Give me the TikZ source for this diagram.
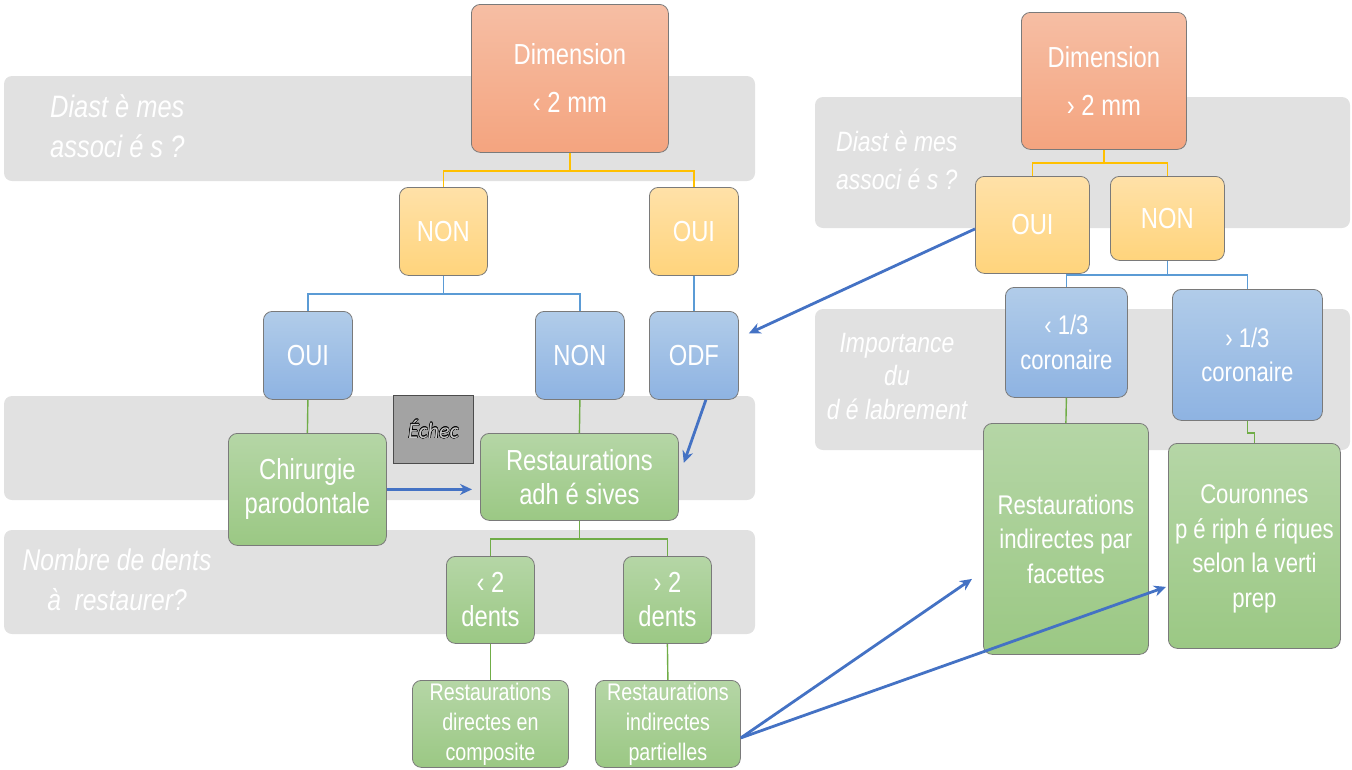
\documentclass[tikz,border=0pt]{standalone}
\usepackage{fontspec}
\setmainfont{Liberation Sans}[FakeStretch=0.82]
\newfontfamily\echecfont{Carlito}
\usepackage{contour}
\contourlength{0.4pt}
\usetikzlibrary{arrows.meta}
\definecolor{band}{HTML}{E1E1E1}
\definecolor{bord}{HTML}{7A7A7A}
\definecolor{orT}{HTML}{F6BEA4}
\definecolor{orB}{HTML}{F4A47F}
\definecolor{yeT}{HTML}{FFE1A8}
\definecolor{yeB}{HTML}{FFD47C}
\definecolor{blT}{HTML}{B1CCE9}
\definecolor{blB}{HTML}{8EB3E2}
\definecolor{grT}{HTML}{B5D6A6}
\definecolor{grB}{HTML}{9BC884}
\definecolor{ycol}{HTML}{FFC000}
\definecolor{bcol}{HTML}{5B9BD5}
\definecolor{gcol}{HTML}{70AD47}
\definecolor{acol}{HTML}{4472C4}
\definecolor{echecfill}{HTML}{A3A3A3}
\definecolor{echectext}{HTML}{C8C8C8}
\begin{document}
\begin{tikzpicture}[x=1pt,y=-1pt,
  bandbox/.style={fill=band,rounded corners=8pt,draw=none},
  bandlbl/.style={text=white,inner sep=0pt},
  boxbase/.style={draw=bord,line width=0.8pt,rounded corners=9pt,text=white,align=center,anchor=north west,inner sep=2pt},
  orbox/.style={boxbase,top color=orT,bottom color=orB},
  yebox/.style={boxbase,top color=yeT,bottom color=yeB},
  blbox/.style={boxbase,top color=blT,bottom color=blB},
  grbox/.style={boxbase,top color=grT,bottom color=grB},
  big/.style={font=\fontsize{29}{34}\selectfont},
  mid/.style={font=\fontsize{29}{34}\selectfont},
  rmid/.style={font=\fontsize{27}{34.5}\selectfont},
  small/.style={font=\fontsize{24}{30}\selectfont},
  ycon/.style={draw=ycol,line width=1.6pt},
  bcon/.style={draw=bcol,line width=1.6pt},
  gcon/.style={draw=gcol,line width=1.4pt},
  arr/.style={draw=acol,line width=2.8pt,-{Stealth[length=12pt,width=11pt]}}
]
\useasboundingbox (0,0) rectangle (1352,769);
% bands
\path[bandbox] (4,76) rectangle (755,181);
\path[bandbox] (4,396) rectangle (755,500);
\path[bandbox] (4,530) rectangle (755,634);
\path[bandbox] (815,97) rectangle (1350,228);
\path[bandbox] (815,309) rectangle (1350,450);
% band labels
\node[bandlbl,anchor=north west,align=left,font=\itshape\fontsize{31}{40}\selectfont] (l1) at (50,94) {Diast è mes\\associ é s ?};
\node[bandlbl,anchor=north,align=center,font=\itshape\fontsize{30}{40}\selectfont] (l2) at (117,549) {Nombre de dents\\à\ \ restaurer?};
\node[bandlbl,anchor=north west,align=left,font=\itshape\fontsize{28}{38}\selectfont] (l3) at (836,131) {Diast è mes\\associ é s ?};
\node[bandlbl,anchor=north,align=center,font=\itshape\fontsize{28}{33.5}\selectfont] (l4) at (897,333) {Importance\\du\\d é labrement};
% left tree
\node[orbox,big,minimum width=197pt,minimum height=148pt] (dim1) at (471,4) {Dimension\\[14pt]‹ 2 mm};
\node[yebox,big,minimum width=88pt,minimum height=88pt] (non1) at (399,187) {NON};
\node[yebox,big,minimum width=89pt,minimum height=88pt] (oui1) at (649,187) {OUI};
\node[blbox,big,minimum width=89pt,minimum height=88pt] (oui2) at (263,311) {OUI};
\node[blbox,big,minimum width=89pt,minimum height=88pt] (non2) at (535,311) {NON};
\node[blbox,big,minimum width=89pt,minimum height=88pt] (odf) at (649,311) {ODF};
\node[grbox,mid,minimum width=158pt,minimum height=112pt] (chir) at (228,433) {Chirurgie\\parodontale};
\node[draw=black!70,line width=0.8pt,fill=echecfill,anchor=north west,minimum width=80pt,minimum height=68pt,
      font=\echecfont\itshape\fontsize{22}{26}\selectfont,text=echectext] (echec) at (393,395) {\contour{black}{Échec}};
\node[grbox,mid,minimum width=198pt,minimum height=87pt] (resto) at (480,433) {Restaurations\\adh é sives};
\node[grbox,big,minimum width=88pt,minimum height=87pt] (d1) at (446,556) {‹ 2\\dents};
\node[grbox,big,minimum width=88pt,minimum height=87pt] (d2) at (623,556) {› 2\\dents};
\node[grbox,small,minimum width=156pt,minimum height=87pt] (rdc) at (412,680) {Restaurations\\directes en\\composite};
\node[grbox,small,minimum width=145pt,minimum height=87pt] (rip) at (595,680) {Restaurations\\indirectes\\partielles};
% right tree
\node[orbox,big,minimum width=165pt,minimum height=137pt] (dim2) at (1021,12) {Dimension\\[14pt]› 2 mm};
\node[yebox,big,minimum width=114pt,minimum height=97pt] (oui3) at (975,176) {OUI};
\node[yebox,big,minimum width=114pt,minimum height=84pt] (non3) at (1110,176) {NON};
\node[blbox,rmid,minimum width=122pt,minimum height=110pt] (t1) at (1005,287) {‹ 1/3\\coronaire};
\node[blbox,rmid,minimum width=150pt,minimum height=131pt] (t2) at (1172,289) {› 1/3\\coronaire};
\node[grbox,rmid,minimum width=165pt,minimum height=231pt] (fac) at (983,423) {Restaurations\\indirectes par\\facettes};
\node[grbox,rmid,minimum width=172pt,minimum height=205pt,text depth=-6pt] (cou) at (1168,443) {Couronnes\\p é riph é riques\\selon la verti\\prep};
% connectors
\draw[ycon] (dim1.south) -- ++(0,18) -| (non1.north);
\draw[ycon] (dim1.south) -- ++(0,18) -| (oui1.north);
\draw[bcon] (non1.south) -- ++(0,18) -| (oui2.north);
\draw[bcon] (non1.south) -- ++(0,18) -| (non2.north);
\draw[bcon] (oui1.south) -- (odf.north);
\draw[gcon] (oui2.south) -- (chir.north);
\draw[gcon] (non2.south) -- (resto.north);
\draw[gcon] (resto.south) -- ++(0,18) -| (d1.north);
\draw[gcon] (resto.south) -- ++(0,18) -| (d2.north);
\draw[gcon] (d1.south) -- (rdc.north);
\draw[gcon] (d2.south) -- (rip.north);
\draw[ycon] (dim2.south) -- ++(0,13) -| (oui3.north);
\draw[ycon] (dim2.south) -- ++(0,13) -| (non3.north);
\draw[bcon] (non3.south) -- ++(0,14) -| (t1.north);
\draw[bcon] (non3.south) -- ++(0,14) -| (t2.north);
\draw[gcon] (t1.south) -- (fac.north);
\draw[gcon] (t2.south) -- ++(0,12) -| (cou.north);
% arrows
\draw[arr,shorten >=8pt] (chir.east) -- (resto.west |- chir.east);
\draw[arr] ([xshift=12pt]odf.south) -- ([xshift=5pt,yshift=14pt]resto.east);
\draw[arr] ([yshift=-4pt]oui3.west) -- ([xshift=10pt,yshift=22pt]odf.east);
\draw[arr] ([yshift=-14pt]rip.east) -- ([xshift=-11pt,yshift=-40pt]fac.west);
\draw[arr] ([yshift=-14pt]rip.east) -- ([xshift=-2pt,yshift=-41pt]cou.west);
\end{tikzpicture}
\end{document}
